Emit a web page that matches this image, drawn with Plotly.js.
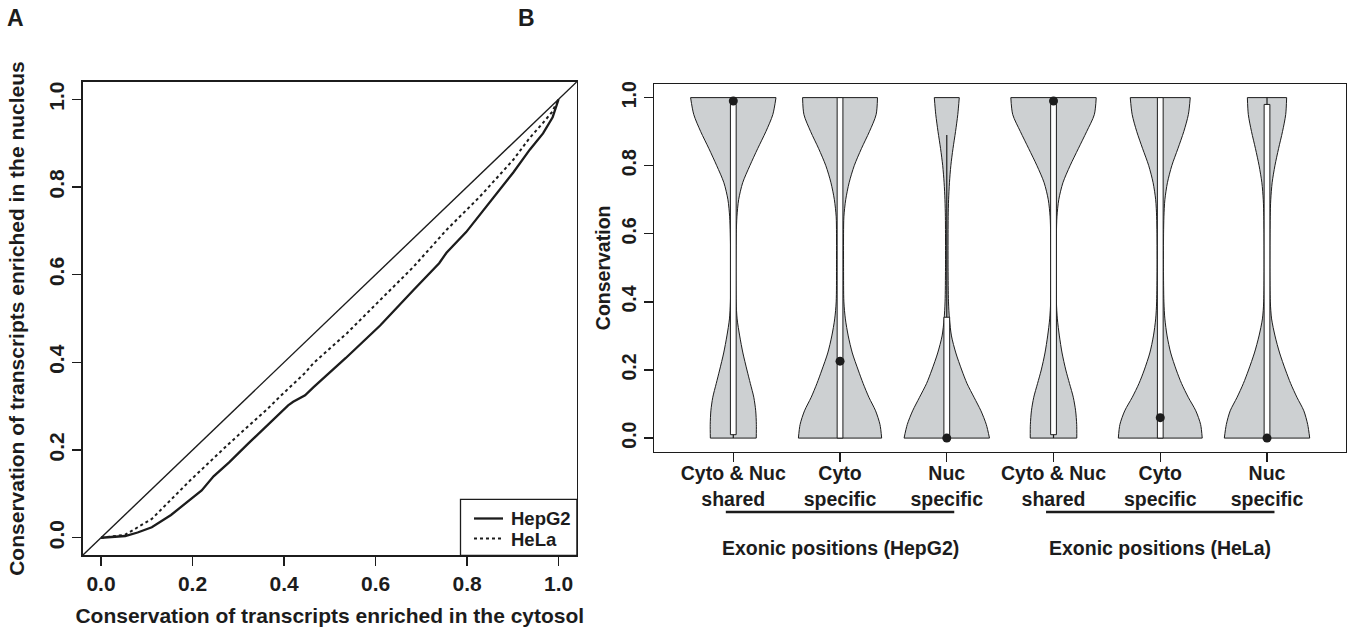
<!DOCTYPE html>
<html>
<head>
<meta charset="utf-8">
<script src="https://cdn.plot.ly/plotly-3.0.1.min.js"></script>
<style>html,body{margin:0;padding:0;background:#fff;}#chart{width:1349px;height:636px;}</style>
</head>
<body>
<div id="chart"></div>
<script>
// ---------- Panel A data ----------
const seriesNames = ['HepG2', 'HeLa'];
const hepg2X = [0, 0.03, 0.053, 0.08, 0.111, 0.153, 0.199, 0.22, 0.246, 0.28, 0.321, 0.363, 0.391, 0.409, 0.42, 0.446, 0.464, 0.484, 0.535, 0.61, 0.664, 0.683, 0.739, 0.755, 0.798, 0.828, 0.848, 0.901, 0.937, 0.966, 0.987, 1.0];
const hepg2Y = [0, 0.003, 0.004, 0.012, 0.024, 0.052, 0.091, 0.108, 0.14, 0.172, 0.214, 0.256, 0.284, 0.302, 0.31, 0.325, 0.343, 0.362, 0.41, 0.484, 0.545, 0.565, 0.626, 0.65, 0.697, 0.737, 0.762, 0.833, 0.885, 0.922, 0.959, 1.0];
const helaX = [0, 0.053, 0.111, 0.195, 0.279, 0.363, 0.391, 0.446, 0.464, 0.537, 0.61, 0.683, 0.755, 0.828, 0.901, 0.937, 0.965, 0.985, 1.0];
const helaY = [0, 0.007, 0.043, 0.131, 0.214, 0.293, 0.322, 0.376, 0.398, 0.466, 0.542, 0.618, 0.702, 0.778, 0.862, 0.912, 0.945, 0.97, 1.0];
const axisRangeA = [-0.04, 1.04];
const ticksA = [0, 0.2, 0.4, 0.6, 0.8, 1.0];

// ---------- Panel B data ----------
const categoryLabels = ['Cyto & Nuc<br>shared', 'Cyto<br>specific', 'Nuc<br>specific', 'Cyto & Nuc<br>shared', 'Cyto<br>specific', 'Nuc<br>specific'];
const categoryPos = [1, 2, 3, 4, 5, 6];
const groupTitles = ['Exonic positions (HepG2)', 'Exonic positions (HeLa)'];
const densityY = [0, 0.04, 0.08, 0.12, 0.16, 0.2, 0.25, 0.3, 0.35, 0.4, 0.5, 0.6, 0.65, 0.7, 0.75, 0.8, 0.85, 0.9, 0.95, 1.0];
const widthSharedHepG2 = [0.215, 0.216, 0.21, 0.192, 0.16, 0.128, 0.09, 0.06, 0.036, 0.027, 0.024, 0.028, 0.034, 0.05, 0.088, 0.155, 0.228, 0.305, 0.37, 0.40];
const widthCytoHepG2 = [0.39, 0.374, 0.333, 0.27, 0.217, 0.17, 0.115, 0.077, 0.05, 0.036, 0.033, 0.033, 0.036, 0.053, 0.085, 0.133, 0.2, 0.275, 0.338, 0.351];
const widthNucHepG2 = [0.40, 0.37, 0.32, 0.255, 0.19, 0.14, 0.085, 0.044, 0.025, 0.016, 0.012, 0.012, 0.013, 0.017, 0.025, 0.038, 0.058, 0.082, 0.103, 0.117];
const widthSharedHeLa = [0.218, 0.217, 0.207, 0.185, 0.15, 0.115, 0.08, 0.055, 0.036, 0.027, 0.024, 0.027, 0.032, 0.049, 0.088, 0.155, 0.232, 0.31, 0.382, 0.40];
const widthCytoHeLa = [0.393, 0.378, 0.333, 0.262, 0.2, 0.15, 0.098, 0.064, 0.043, 0.034, 0.03, 0.031, 0.034, 0.043, 0.067, 0.108, 0.165, 0.22, 0.263, 0.281];
const widthNucHeLa = [0.40, 0.381, 0.345, 0.28, 0.222, 0.173, 0.118, 0.075, 0.043, 0.031, 0.027, 0.028, 0.03, 0.035, 0.048, 0.074, 0.108, 0.145, 0.175, 0.184];
const boxLow = [0.01, 0, 0, 0.01, 0, 0];
const boxHigh = [0.98, 1, 0.355, 0.98, 1, 0.98];
const whiskerLow = [0, 0, 0, 0, 0, 0];
const whiskerHigh = [1, 1, 0.89, 1, 1, 1];
const medians = [0.99, 0.226, 0, 0.99, 0.06, 0];
const axisRangeBx = [0.26, 6.74];
const axisRangeBy = [-0.04, 1.04];
const ticksB = [0, 0.2, 0.4, 0.6, 0.8, 1.0];

// ---------- styling ----------
const W = 1349, H = 636;
const FAM = 'Liberation Sans, Arial, Helvetica, sans-serif';
const INK = '#1c1c1c';
const fA = {family: FAM, size: 21, color: INK, weight: 700};
const fB = {family: FAM, size: 19.5, color: INK, weight: 700};
const fLeg = {family: FAM, size: 18.5, color: INK, weight: 700};
const px = v => v / W;
const py = v => 1 - v / H;

const traces = [];
// Panel A
traces.push({x: axisRangeA, y: axisRangeA, xaxis: 'x', yaxis: 'y', mode: 'lines', line: {color: INK, width: 1.4}, hoverinfo: 'skip'});
traces.push({x: hepg2X, y: hepg2Y, name: seriesNames[0], xaxis: 'x', yaxis: 'y', mode: 'lines', line: {color: INK, width: 2.3}});
traces.push({x: helaX, y: helaY, name: seriesNames[1], xaxis: 'x', yaxis: 'y', mode: 'lines', line: {color: INK, width: 2, dash: '3px,3px'}});

// Panel B violins
const widths = [widthSharedHepG2, widthCytoHepG2, widthNucHepG2, widthSharedHeLa, widthCytoHeLa, widthNucHeLa];
const boxHalf = 0.027;
const last = densityY.length - 1;
widths.forEach((w, i) => {
  const c = categoryPos[i];
  // left outline
  traces.push({x: w.map(v => c - v), y: densityY, xaxis: 'x2', yaxis: 'y2', mode: 'lines', line: {color: INK, width: 1, shape: 'spline', smoothing: 0.8}, hoverinfo: 'skip'});
  // right outline, filled back to the left outline
  traces.push({x: w.map(v => c + v), y: densityY, xaxis: 'x2', yaxis: 'y2', mode: 'lines', fill: 'tonextx', fillcolor: '#cdd0d2', line: {color: INK, width: 1, shape: 'spline', smoothing: 0.8}, hoverinfo: 'skip'});
  // flat bottom and top edges
  traces.push({x: [c - w[0], c + w[0], null, c - w[last], c + w[last]], y: [densityY[0], densityY[0], null, densityY[last], densityY[last]], xaxis: 'x2', yaxis: 'y2', mode: 'lines', line: {color: INK, width: 1}, hoverinfo: 'skip'});
  traces.push({x: [c, c], y: [whiskerLow[i], whiskerHigh[i]], xaxis: 'x2', yaxis: 'y2', mode: 'lines', line: {color: INK, width: 1.2}, hoverinfo: 'skip'});
  traces.push({x: [c - boxHalf, c + boxHalf, c + boxHalf, c - boxHalf, c - boxHalf], y: [boxLow[i], boxLow[i], boxHigh[i], boxHigh[i], boxLow[i]], xaxis: 'x2', yaxis: 'y2', mode: 'lines', fill: 'toself', fillcolor: '#ffffff', line: {color: INK, width: 1}, hoverinfo: 'skip'});
});
traces.push({x: categoryPos, y: medians, xaxis: 'x2', yaxis: 'y2', mode: 'markers', marker: {color: INK, size: 9}, hoverinfo: 'skip'});

const axCommon = {showgrid: false, zeroline: false, showline: true, mirror: true, linecolor: INK, linewidth: 1.3, ticks: 'outside', ticklen: 9, tickwidth: 1.3, tickcolor: INK, automargin: false};

const layout = {
  width: W, height: H,
  margin: {l: 0, r: 0, t: 0, b: 0},
  paper_bgcolor: '#fff', plot_bgcolor: '#fff',
  showlegend: false,
  xaxis: Object.assign({}, axCommon, {domain: [px(82.7), px(576.9)], range: axisRangeA, anchor: 'y', tickvals: ticksA, tickformat: '.1f', tickfont: fA,
    title: {text: 'Conservation of transcripts enriched in the cytosol', font: fA, standoff: 14}}),
  yaxis: Object.assign({}, axCommon, {domain: [py(555.3), py(81.7)], range: axisRangeA, anchor: 'x', tickvals: ticksA, tickformat: '.1f', tickangle: -90, tickfont: fA,
    title: {text: 'Conservation of transcripts enriched in the nucleus', font: fA, standoff: 14}}),
  xaxis2: Object.assign({}, axCommon, {domain: [px(654.3), px(1346)], range: axisRangeBx, anchor: 'y2', tickvals: categoryPos, ticktext: categoryLabels, tickfont: fB, ticklabelstandoff: -5}),
  yaxis2: Object.assign({}, axCommon, {domain: [py(451.7), py(84)], range: axisRangeBy, anchor: 'x2', tickvals: ticksB, tickformat: '.1f', tickangle: -90, tickfont: fB,
    title: {text: 'Conservation', font: fB, standoff: 2}}),
  shapes: [
    // legend box
    {type: 'rect', xref: 'paper', yref: 'paper', x0: px(460.5), x1: px(576.9), y0: py(555.3), y1: py(499.3), line: {color: INK, width: 1.3}, fillcolor: '#fff'},
    {type: 'line', xref: 'paper', yref: 'paper', x0: px(474), x1: px(503), y0: py(518.5), y1: py(518.5), line: {color: INK, width: 2.3}},
    {type: 'line', xref: 'paper', yref: 'paper', x0: px(474), x1: px(503), y0: py(538.5), y1: py(538.5), line: {color: INK, width: 2, dash: '3px,3px'}},
    // group underlines
    {type: 'line', xref: 'x2', yref: 'paper', x0: 0.93, x1: 3.07, y0: py(512), y1: py(512), line: {color: INK, width: 2.5}},
    {type: 'line', xref: 'x2', yref: 'paper', x0: 3.93, x1: 6.07, y0: py(512), y1: py(512), line: {color: INK, width: 2.5}}
  ],
  annotations: [
    {text: 'A', xref: 'paper', yref: 'paper', x: px(15), y: py(18), xanchor: 'center', yanchor: 'middle', showarrow: false, font: {family: FAM, size: 23, color: INK, weight: 700}},
    {text: 'B', xref: 'paper', yref: 'paper', x: px(526), y: py(18), xanchor: 'center', yanchor: 'middle', showarrow: false, font: {family: FAM, size: 23, color: INK, weight: 700}},
    {text: seriesNames[0], xref: 'paper', yref: 'paper', x: px(510), y: py(518), xanchor: 'left', yanchor: 'middle', showarrow: false, font: fLeg, borderpad: 0},
    {text: seriesNames[1], xref: 'paper', yref: 'paper', x: px(510), y: py(539), xanchor: 'left', yanchor: 'middle', showarrow: false, font: fLeg, borderpad: 0},
    {text: groupTitles[0], xref: 'x2', yref: 'paper', x: 2, y: py(548), xanchor: 'center', yanchor: 'middle', showarrow: false, font: fB},
    {text: groupTitles[1], xref: 'x2', yref: 'paper', x: 5, y: py(548), xanchor: 'center', yanchor: 'middle', showarrow: false, font: fB}
  ]
};

Plotly.newPlot('chart', traces, layout, {staticPlot: true, displayModeBar: false});
</script>
</body>
</html>
